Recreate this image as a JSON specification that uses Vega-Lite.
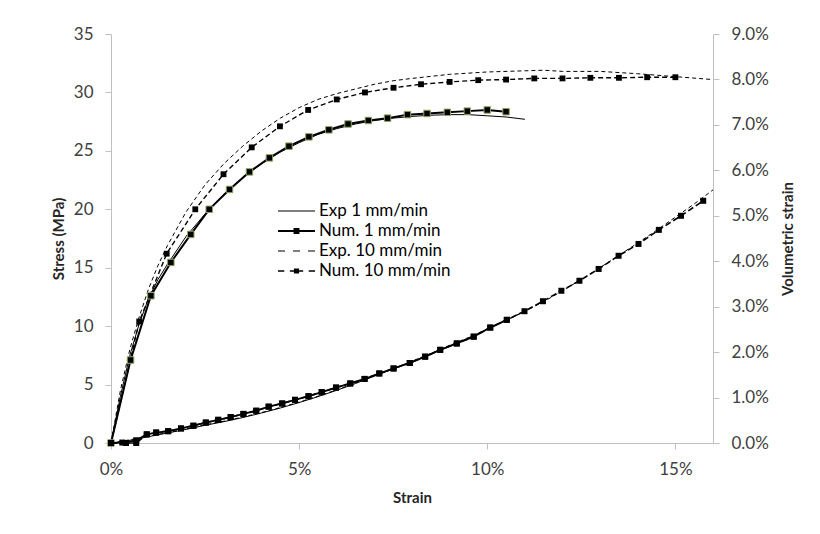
{
  "$schema": "https://vega.github.io/schema/vega-lite/v6.json",
  "width": 602,
  "height": 409,
  "autosize": "none",
  "padding": {"left": 111, "top": 34, "right": 107, "bottom": 91},
  "background": "white",
  "config": {
    "view": {"stroke": null},
    "axis": {"domainColor": "#c0c0c0", "tickColor": "#c0c0c0", "grid": false, "tickSize": 6, "labelFont": "Lato", "labelFontSize": 17, "labelColor": "#404040", "titleFont": "Lato", "titleFontSize": 15, "titleFontWeight": "bold", "titleColor": "#262626"}
  },
  "datasets": {
    "stress": [
      {"s": "Exp 1 mm/min", "x": 0, "y": 0}, {"s": "Exp 1 mm/min", "x": 0.1, "y": 1.6}, {"s": "Exp 1 mm/min", "x": 0.25, "y": 4.0}, {"s": "Exp 1 mm/min", "x": 0.5, "y": 7.5}, {"s": "Exp 1 mm/min", "x": 0.75, "y": 10.2}, {"s": "Exp 1 mm/min", "x": 1.0, "y": 12.4}, {"s": "Exp 1 mm/min", "x": 1.25, "y": 14.0}, {"s": "Exp 1 mm/min", "x": 1.5, "y": 15.3}, {"s": "Exp 1 mm/min", "x": 2.0, "y": 17.7}, {"s": "Exp 1 mm/min", "x": 2.5, "y": 19.6}, {"s": "Exp 1 mm/min", "x": 3.0, "y": 21.3}, {"s": "Exp 1 mm/min", "x": 3.5, "y": 22.7}, {"s": "Exp 1 mm/min", "x": 4.0, "y": 23.9}, {"s": "Exp 1 mm/min", "x": 4.5, "y": 24.9}, {"s": "Exp 1 mm/min", "x": 5.0, "y": 25.7}, {"s": "Exp 1 mm/min", "x": 5.5, "y": 26.4}, {"s": "Exp 1 mm/min", "x": 6.0, "y": 26.9}, {"s": "Exp 1 mm/min", "x": 6.5, "y": 27.3}, {"s": "Exp 1 mm/min", "x": 7.0, "y": 27.6}, {"s": "Exp 1 mm/min", "x": 7.5, "y": 27.8}, {"s": "Exp 1 mm/min", "x": 8.0, "y": 27.95}, {"s": "Exp 1 mm/min", "x": 8.5, "y": 28.05}, {"s": "Exp 1 mm/min", "x": 9.0, "y": 28.1}, {"s": "Exp 1 mm/min", "x": 9.5, "y": 28.1}, {"s": "Exp 1 mm/min", "x": 10.0, "y": 28.0}, {"s": "Exp 1 mm/min", "x": 10.5, "y": 27.9}, {"s": "Exp 1 mm/min", "x": 11.0, "y": 27.7},
      {"s": "Num. 1 mm/min", "x": 0, "y": 0}, {"s": "Num. 1 mm/min", "x": 0.52, "y": 7.1}, {"s": "Num. 1 mm/min", "x": 1.06, "y": 12.6}, {"s": "Num. 1 mm/min", "x": 1.59, "y": 15.45}, {"s": "Num. 1 mm/min", "x": 2.12, "y": 17.85}, {"s": "Num. 1 mm/min", "x": 2.61, "y": 20.0}, {"s": "Num. 1 mm/min", "x": 3.15, "y": 21.7}, {"s": "Num. 1 mm/min", "x": 3.68, "y": 23.2}, {"s": "Num. 1 mm/min", "x": 4.21, "y": 24.4}, {"s": "Num. 1 mm/min", "x": 4.73, "y": 25.4}, {"s": "Num. 1 mm/min", "x": 5.26, "y": 26.2}, {"s": "Num. 1 mm/min", "x": 5.79, "y": 26.8}, {"s": "Num. 1 mm/min", "x": 6.3, "y": 27.3}, {"s": "Num. 1 mm/min", "x": 6.84, "y": 27.6}, {"s": "Num. 1 mm/min", "x": 7.35, "y": 27.8}, {"s": "Num. 1 mm/min", "x": 7.88, "y": 28.1}, {"s": "Num. 1 mm/min", "x": 8.4, "y": 28.2}, {"s": "Num. 1 mm/min", "x": 8.94, "y": 28.3}, {"s": "Num. 1 mm/min", "x": 9.47, "y": 28.4}, {"s": "Num. 1 mm/min", "x": 10.0, "y": 28.5}, {"s": "Num. 1 mm/min", "x": 10.5, "y": 28.35},
      {"s": "Exp. 10 mm/min", "x": 0, "y": 0}, {"s": "Exp. 10 mm/min", "x": 0.1, "y": 1.8}, {"s": "Exp. 10 mm/min", "x": 0.25, "y": 4.5}, {"s": "Exp. 10 mm/min", "x": 0.5, "y": 8.0}, {"s": "Exp. 10 mm/min", "x": 0.75, "y": 10.8}, {"s": "Exp. 10 mm/min", "x": 1.0, "y": 13.2}, {"s": "Exp. 10 mm/min", "x": 1.25, "y": 15.2}, {"s": "Exp. 10 mm/min", "x": 1.5, "y": 16.9}, {"s": "Exp. 10 mm/min", "x": 2.0, "y": 19.8}, {"s": "Exp. 10 mm/min", "x": 2.5, "y": 22.1}, {"s": "Exp. 10 mm/min", "x": 3.0, "y": 23.9}, {"s": "Exp. 10 mm/min", "x": 3.5, "y": 25.4}, {"s": "Exp. 10 mm/min", "x": 4.0, "y": 26.7}, {"s": "Exp. 10 mm/min", "x": 4.5, "y": 27.8}, {"s": "Exp. 10 mm/min", "x": 5.0, "y": 28.7}, {"s": "Exp. 10 mm/min", "x": 5.5, "y": 29.4}, {"s": "Exp. 10 mm/min", "x": 6.0, "y": 29.9}, {"s": "Exp. 10 mm/min", "x": 6.5, "y": 30.3}, {"s": "Exp. 10 mm/min", "x": 7.0, "y": 30.7}, {"s": "Exp. 10 mm/min", "x": 7.5, "y": 31.0}, {"s": "Exp. 10 mm/min", "x": 8.0, "y": 31.2}, {"s": "Exp. 10 mm/min", "x": 9.0, "y": 31.55}, {"s": "Exp. 10 mm/min", "x": 10.0, "y": 31.75}, {"s": "Exp. 10 mm/min", "x": 11.0, "y": 31.85}, {"s": "Exp. 10 mm/min", "x": 11.5, "y": 31.9}, {"s": "Exp. 10 mm/min", "x": 12.0, "y": 31.8}, {"s": "Exp. 10 mm/min", "x": 13.0, "y": 31.8}, {"s": "Exp. 10 mm/min", "x": 14.0, "y": 31.6}, {"s": "Exp. 10 mm/min", "x": 15.0, "y": 31.35}, {"s": "Exp. 10 mm/min", "x": 16.0, "y": 31.1},
      {"s": "Num. 10 mm/min", "x": 0, "y": 0}, {"s": "Num. 10 mm/min", "x": 0.75, "y": 10.4}, {"s": "Num. 10 mm/min", "x": 1.48, "y": 16.2}, {"s": "Num. 10 mm/min", "x": 2.24, "y": 20.0}, {"s": "Num. 10 mm/min", "x": 2.99, "y": 23.0}, {"s": "Num. 10 mm/min", "x": 3.74, "y": 25.3}, {"s": "Num. 10 mm/min", "x": 4.49, "y": 27.1}, {"s": "Num. 10 mm/min", "x": 5.24, "y": 28.5}, {"s": "Num. 10 mm/min", "x": 6.0, "y": 29.4}, {"s": "Num. 10 mm/min", "x": 6.75, "y": 30.0}, {"s": "Num. 10 mm/min", "x": 7.51, "y": 30.4}, {"s": "Num. 10 mm/min", "x": 8.24, "y": 30.7}, {"s": "Num. 10 mm/min", "x": 9.0, "y": 30.9}, {"s": "Num. 10 mm/min", "x": 9.76, "y": 31.05}, {"s": "Num. 10 mm/min", "x": 10.5, "y": 31.1}, {"s": "Num. 10 mm/min", "x": 11.25, "y": 31.2}, {"s": "Num. 10 mm/min", "x": 12.0, "y": 31.2}, {"s": "Num. 10 mm/min", "x": 12.74, "y": 31.25}, {"s": "Num. 10 mm/min", "x": 13.5, "y": 31.25}, {"s": "Num. 10 mm/min", "x": 14.25, "y": 31.3}, {"s": "Num. 10 mm/min", "x": 15.0, "y": 31.3}
    ],
    "vol": [
      {"s": "Exp 1 mm/min", "x": 0, "y": 0}, {"s": "Exp 1 mm/min", "x": 0.5, "y": 0.06}, {"s": "Exp 1 mm/min", "x": 1.0, "y": 0.14}, {"s": "Exp 1 mm/min", "x": 1.5, "y": 0.22}, {"s": "Exp 1 mm/min", "x": 2.0, "y": 0.3}, {"s": "Exp 1 mm/min", "x": 2.5, "y": 0.39}, {"s": "Exp 1 mm/min", "x": 3.0, "y": 0.47}, {"s": "Exp 1 mm/min", "x": 3.5, "y": 0.56}, {"s": "Exp 1 mm/min", "x": 4.0, "y": 0.66}, {"s": "Exp 1 mm/min", "x": 4.5, "y": 0.77}, {"s": "Exp 1 mm/min", "x": 5.0, "y": 0.89}, {"s": "Exp 1 mm/min", "x": 5.5, "y": 1.02}, {"s": "Exp 1 mm/min", "x": 6.0, "y": 1.16}, {"s": "Exp 1 mm/min", "x": 6.5, "y": 1.31}, {"s": "Exp 1 mm/min", "x": 7.0, "y": 1.47}, {"s": "Exp 1 mm/min", "x": 7.5, "y": 1.63}, {"s": "Exp 1 mm/min", "x": 8.0, "y": 1.79}, {"s": "Exp 1 mm/min", "x": 8.5, "y": 1.96}, {"s": "Exp 1 mm/min", "x": 9.0, "y": 2.14}, {"s": "Exp 1 mm/min", "x": 9.5, "y": 2.31}, {"s": "Exp 1 mm/min", "x": 10.0, "y": 2.5}, {"s": "Exp 1 mm/min", "x": 10.5, "y": 2.7}, {"s": "Exp 1 mm/min", "x": 11.0, "y": 2.9},
      {"s": "Exp. 10 mm/min", "x": 0, "y": 0}, {"s": "Exp. 10 mm/min", "x": 0.5, "y": 0.07}, {"s": "Exp. 10 mm/min", "x": 1.0, "y": 0.15}, {"s": "Exp. 10 mm/min", "x": 1.5, "y": 0.23}, {"s": "Exp. 10 mm/min", "x": 2.0, "y": 0.31}, {"s": "Exp. 10 mm/min", "x": 2.5, "y": 0.4}, {"s": "Exp. 10 mm/min", "x": 3.0, "y": 0.48}, {"s": "Exp. 10 mm/min", "x": 3.5, "y": 0.57}, {"s": "Exp. 10 mm/min", "x": 4.0, "y": 0.67}, {"s": "Exp. 10 mm/min", "x": 4.5, "y": 0.78}, {"s": "Exp. 10 mm/min", "x": 5.0, "y": 0.9}, {"s": "Exp. 10 mm/min", "x": 5.5, "y": 1.03}, {"s": "Exp. 10 mm/min", "x": 6.0, "y": 1.17}, {"s": "Exp. 10 mm/min", "x": 6.5, "y": 1.32}, {"s": "Exp. 10 mm/min", "x": 7.0, "y": 1.48}, {"s": "Exp. 10 mm/min", "x": 7.5, "y": 1.64}, {"s": "Exp. 10 mm/min", "x": 8.0, "y": 1.8}, {"s": "Exp. 10 mm/min", "x": 8.5, "y": 1.97}, {"s": "Exp. 10 mm/min", "x": 9.0, "y": 2.15}, {"s": "Exp. 10 mm/min", "x": 9.5, "y": 2.32}, {"s": "Exp. 10 mm/min", "x": 10.0, "y": 2.51}, {"s": "Exp. 10 mm/min", "x": 10.5, "y": 2.7}, {"s": "Exp. 10 mm/min", "x": 11.0, "y": 2.9}, {"s": "Exp. 10 mm/min", "x": 11.5, "y": 3.11}, {"s": "Exp. 10 mm/min", "x": 12.0, "y": 3.35}, {"s": "Exp. 10 mm/min", "x": 12.5, "y": 3.6}, {"s": "Exp. 10 mm/min", "x": 13.0, "y": 3.86}, {"s": "Exp. 10 mm/min", "x": 13.5, "y": 4.13}, {"s": "Exp. 10 mm/min", "x": 14.0, "y": 4.4}, {"s": "Exp. 10 mm/min", "x": 14.5, "y": 4.68}, {"s": "Exp. 10 mm/min", "x": 15.0, "y": 4.97}, {"s": "Exp. 10 mm/min", "x": 15.5, "y": 5.26}, {"s": "Exp. 10 mm/min", "x": 16.0, "y": 5.57},
      {"s": "Num. 1 mm/min", "x": 0, "y": 0}, {"s": "Num. 1 mm/min", "x": 0.3, "y": 0.01}, {"s": "Num. 1 mm/min", "x": 0.67, "y": 0.06}, {"s": "Num. 1 mm/min", "x": 0.95, "y": 0.19}, {"s": "Num. 1 mm/min", "x": 1.2, "y": 0.23}, {"s": "Num. 1 mm/min", "x": 1.52, "y": 0.26}, {"s": "Num. 1 mm/min", "x": 1.86, "y": 0.32}, {"s": "Num. 1 mm/min", "x": 2.19, "y": 0.38}, {"s": "Num. 1 mm/min", "x": 2.52, "y": 0.45}, {"s": "Num. 1 mm/min", "x": 2.85, "y": 0.51}, {"s": "Num. 1 mm/min", "x": 3.18, "y": 0.57}, {"s": "Num. 1 mm/min", "x": 3.52, "y": 0.64}, {"s": "Num. 1 mm/min", "x": 3.86, "y": 0.71}, {"s": "Num. 1 mm/min", "x": 4.19, "y": 0.8}, {"s": "Num. 1 mm/min", "x": 4.55, "y": 0.87}, {"s": "Num. 1 mm/min", "x": 4.89, "y": 0.95}, {"s": "Num. 1 mm/min", "x": 5.25, "y": 1.03}, {"s": "Num. 1 mm/min", "x": 5.6, "y": 1.12}, {"s": "Num. 1 mm/min", "x": 5.98, "y": 1.22}, {"s": "Num. 1 mm/min", "x": 6.36, "y": 1.31}, {"s": "Num. 1 mm/min", "x": 6.74, "y": 1.41}, {"s": "Num. 1 mm/min", "x": 7.13, "y": 1.53}, {"s": "Num. 1 mm/min", "x": 7.51, "y": 1.64}, {"s": "Num. 1 mm/min", "x": 7.94, "y": 1.76}, {"s": "Num. 1 mm/min", "x": 8.35, "y": 1.9}, {"s": "Num. 1 mm/min", "x": 8.75, "y": 2.05}, {"s": "Num. 1 mm/min", "x": 9.19, "y": 2.19}, {"s": "Num. 1 mm/min", "x": 9.64, "y": 2.34}, {"s": "Num. 1 mm/min", "x": 10.08, "y": 2.54}, {"s": "Num. 1 mm/min", "x": 10.52, "y": 2.71},
      {"s": "Num. 10 mm/min", "x": 0, "y": 0}, {"s": "Num. 10 mm/min", "x": 0.4, "y": 0.0}, {"s": "Num. 10 mm/min", "x": 0.67, "y": 0.0}, {"s": "Num. 10 mm/min", "x": 0.95, "y": 0.19}, {"s": "Num. 10 mm/min", "x": 1.2, "y": 0.23}, {"s": "Num. 10 mm/min", "x": 1.52, "y": 0.26}, {"s": "Num. 10 mm/min", "x": 1.86, "y": 0.32}, {"s": "Num. 10 mm/min", "x": 2.19, "y": 0.38}, {"s": "Num. 10 mm/min", "x": 2.52, "y": 0.45}, {"s": "Num. 10 mm/min", "x": 2.85, "y": 0.51}, {"s": "Num. 10 mm/min", "x": 3.18, "y": 0.57}, {"s": "Num. 10 mm/min", "x": 3.52, "y": 0.64}, {"s": "Num. 10 mm/min", "x": 3.86, "y": 0.71}, {"s": "Num. 10 mm/min", "x": 4.19, "y": 0.8}, {"s": "Num. 10 mm/min", "x": 4.55, "y": 0.87}, {"s": "Num. 10 mm/min", "x": 4.89, "y": 0.95}, {"s": "Num. 10 mm/min", "x": 5.25, "y": 1.03}, {"s": "Num. 10 mm/min", "x": 5.6, "y": 1.12}, {"s": "Num. 10 mm/min", "x": 5.98, "y": 1.22}, {"s": "Num. 10 mm/min", "x": 6.36, "y": 1.31}, {"s": "Num. 10 mm/min", "x": 6.74, "y": 1.41}, {"s": "Num. 10 mm/min", "x": 7.13, "y": 1.53}, {"s": "Num. 10 mm/min", "x": 7.51, "y": 1.64}, {"s": "Num. 10 mm/min", "x": 7.94, "y": 1.76}, {"s": "Num. 10 mm/min", "x": 8.35, "y": 1.9}, {"s": "Num. 10 mm/min", "x": 8.75, "y": 2.05}, {"s": "Num. 10 mm/min", "x": 9.19, "y": 2.19}, {"s": "Num. 10 mm/min", "x": 9.64, "y": 2.34}, {"s": "Num. 10 mm/min", "x": 10.08, "y": 2.54}, {"s": "Num. 10 mm/min", "x": 10.52, "y": 2.71}, {"s": "Num. 10 mm/min", "x": 10.99, "y": 2.9}, {"s": "Num. 10 mm/min", "x": 11.48, "y": 3.12}, {"s": "Num. 10 mm/min", "x": 11.97, "y": 3.35}, {"s": "Num. 10 mm/min", "x": 12.45, "y": 3.57}, {"s": "Num. 10 mm/min", "x": 12.96, "y": 3.83}, {"s": "Num. 10 mm/min", "x": 13.49, "y": 4.12}, {"s": "Num. 10 mm/min", "x": 14.02, "y": 4.38}, {"s": "Num. 10 mm/min", "x": 14.56, "y": 4.69}, {"s": "Num. 10 mm/min", "x": 15.15, "y": 5.0}, {"s": "Num. 10 mm/min", "x": 15.74, "y": 5.33}
    ]
  },
  "encoding": {
    "x": {"field": "x", "type": "quantitative", "scale": {"domain": [0, 16], "nice": false},
      "axis": {"values": [0, 5, 10, 15], "labelExpr": "datum.value + '%'", "title": "Strain", "labelFlush": false, "labelPadding": 12, "titlePadding": 13}}
  },
  "layer": [
    {
      "data": {"name": "stress"},
      "encoding": {
        "y": {"field": "y", "type": "quantitative", "scale": {"domain": [0, 35], "nice": false},
          "axis": {"orient": "left", "values": [0, 5, 10, 15, 20, 25, 30, 35], "title": "Stress (MPa)", "labelPadding": 12, "titlePadding": 7, "labelFlush": false}}
      },
      "layer": [
        {
          "transform": [{"filter": "datum.s == 'Exp 1 mm/min'"}],
          "mark": {"type": "line", "color": "black", "strokeWidth": 1}
        },
        {
          "transform": [{"filter": "datum.s == 'Exp. 10 mm/min'"}],
          "mark": {"type": "line", "color": "black", "strokeWidth": 1, "strokeDash": [4, 3]}
        },
        {
          "transform": [{"filter": "datum.s == 'Num. 10 mm/min'"}],
          "mark": {"type": "line", "color": "black", "strokeWidth": 1.4, "strokeDash": [5, 3]}
        },
        {
          "transform": [{"filter": "datum.s == 'Num. 1 mm/min'"}],
          "mark": {"type": "line", "color": "black", "strokeWidth": 2}
        },
        {
          "transform": [{"filter": "datum.s == 'Num. 1 mm/min'"}],
          "mark": {"type": "square", "size": 42, "fill": "black", "stroke": "#8fa860", "strokeWidth": 1, "opacity": 1}
        },
        {
          "transform": [{"filter": "datum.s == 'Num. 10 mm/min'"}],
          "mark": {"type": "square", "size": 34, "fill": "black", "opacity": 1}
        },
        {
          "mark": {"type": "point", "opacity": 0, "filled": true, "fill": "black", "size": 1369},
          "encoding": {
            "shape": {"field": "s", "type": "nominal",
              "scale": {"domain": ["Exp 1 mm/min", "Num. 1 mm/min", "Exp. 10 mm/min", "Num. 10 mm/min"],
                "range": [
                  "M-1,-0.03H1V0.03H-1Z",
                  "M-1,-0.055H1V0.055H-1ZM-0.16,-0.16H0.16V0.16H-0.16Z",
                  "M-1,-0.03H-0.62V0.03H-1ZM-0.19,-0.03H0.19V0.03H-0.19ZM0.62,-0.03H1V0.03H0.62Z",
                  "M-1,-0.04H-0.66V0.04H-1ZM-0.36,-0.04H0.36V0.04H-0.36ZM0.66,-0.04H1V0.04H0.66ZM-0.14,-0.14H0.14V0.14H-0.14Z"
                ]},
              "legend": {"orient": "none", "legendX": 166, "legendY": 167, "title": null, "symbolSize": 1369, "symbolOpacity": 1, "symbolFillColor": "black", "labelFont": "Lato", "labelFontSize": 17, "labelColor": "black", "labelOffset": 3, "rowPadding": 0, "clipHeight": 20}
            }
          }
        }
      ]
    },
    {
      "data": {"name": "vol"},
      "encoding": {
        "y": {"field": "y", "type": "quantitative", "scale": {"domain": [0, 9], "nice": false},
          "axis": {"orient": "right", "values": [0, 1, 2, 3, 4, 5, 6, 7, 8, 9], "labelExpr": "format(datum.value, '.1f') + '%'", "title": "Volumetric strain", "titleAngle": 270, "titleBaseline": "top", "labelPadding": 12, "titlePadding": 12, "labelFlush": false}}
      },
      "layer": [
        {
          "transform": [{"filter": "datum.s == 'Exp 1 mm/min'"}],
          "mark": {"type": "line", "color": "black", "strokeWidth": 1}
        },
        {
          "transform": [{"filter": "datum.s == 'Exp. 10 mm/min'"}],
          "mark": {"type": "line", "color": "black", "strokeWidth": 1, "strokeDash": [4, 3]}
        },
        {
          "transform": [{"filter": "datum.s == 'Num. 10 mm/min'"}],
          "mark": {"type": "line", "color": "black", "strokeWidth": 1.6, "strokeDash": [6, 3]}
        },
        {
          "transform": [{"filter": "datum.s == 'Num. 1 mm/min'"}],
          "mark": {"type": "line", "color": "black", "strokeWidth": 1.8}
        },
        {
          "transform": [{"filter": "datum.s == 'Num. 1 mm/min' || datum.s == 'Num. 10 mm/min'"}],
          "mark": {"type": "square", "size": 36, "fill": "black", "opacity": 1}
        }
      ]
    }
  ],
  "resolve": {"scale": {"y": "independent"}}
}
